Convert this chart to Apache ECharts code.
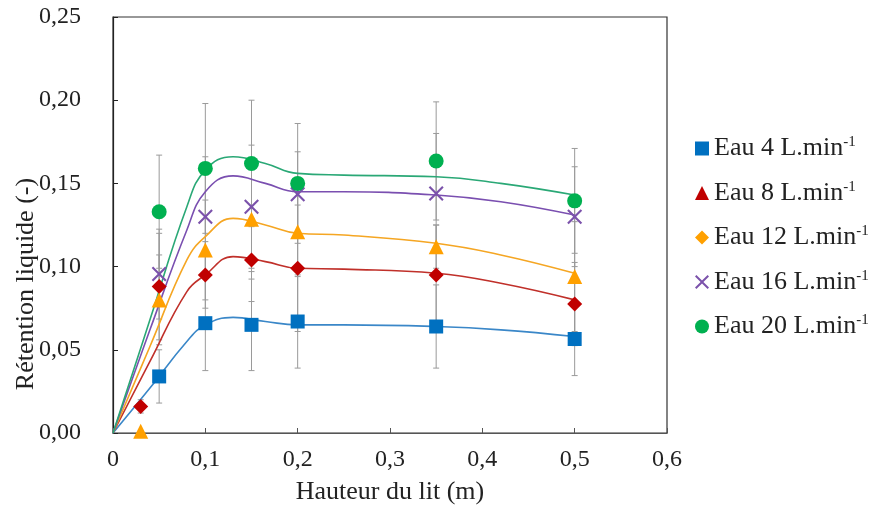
<!DOCTYPE html>
<html><head><meta charset="utf-8">
<script src="https://cdn.jsdelivr.net/npm/echarts@6/dist/echarts.min.js"></script>
<style>html,body{margin:0;padding:0;background:#fff}#c{width:879px;height:515px}</style>
</head><body><div id="c"></div>
<script>
// ---- data ----
const names = ['Eau 4 L.min-1','Eau 8 L.min-1','Eau 12 L.min-1','Eau 16 L.min-1','Eau 20 L.min-1'];
const x4  = [0.05, 0.10, 0.15, 0.20, 0.35, 0.50];
const y4  = [0.034, 0.066, 0.065, 0.067, 0.064, 0.0565];
const e4  = [0.016, 0.0285, 0.0275, 0.028, 0.025, 0.022];
const x8  = [0.03, 0.05, 0.10, 0.15, 0.20, 0.35, 0.50];
const y8  = [0.016, 0.088, 0.095, 0.104, 0.099, 0.095, 0.0775];
const e8  = [0.004, 0.032, 0.020, 0.025, 0.038, 0.030, 0.025];
const x12 = [0.03, 0.05, 0.10, 0.15, 0.20, 0.35, 0.50];
const y12 = [0.001, 0.080, 0.110, 0.1285, 0.121, 0.112, 0.094];
const e12 = [0, 0.027, 0.030, 0.0315, 0.027, 0.013, 0.033];
const x16 = [0.05, 0.10, 0.15, 0.20, 0.35, 0.50];
const y16 = [0.0955, 0.130, 0.136, 0.1435, 0.144, 0.130];
const e16 = [0.027, 0.036, 0.037, 0.0255, 0.036, 0.030];
const x20 = [0.05, 0.10, 0.15, 0.20, 0.35, 0.50];
const y20 = [0.133, 0.159, 0.162, 0.150, 0.1635, 0.1395];
const e20 = [0.034, 0.039, 0.038, 0.036, 0.0355, 0.0315];
// fitted curves
const curveX  = [0, 0.04, 0.08, 0.10, 0.13, 0.165, 0.20, 0.25, 0.35, 0.42, 0.50];
const curve4  = [0, 0.027, 0.055, 0.065, 0.0695, 0.067, 0.065, 0.065, 0.064, 0.062, 0.058];
const curve8  = [0, 0.043, 0.085, 0.095, 0.106, 0.103, 0.099, 0.0985, 0.096, 0.090, 0.080];
const curve12 = [0, 0.052, 0.104, 0.118, 0.129, 0.125, 0.120, 0.119, 0.114, 0.107, 0.096];
const curve16 = [0, 0.062, 0.122, 0.145, 0.1545, 0.150, 0.145, 0.145, 0.143, 0.139, 0.131];
const curve20 = [0, 0.068, 0.136, 0.158, 0.166, 0.162, 0.156, 0.155, 0.154, 0.150, 0.143];
const yTitle = 'Rétention liquide (-)';
const xTitle = 'Hauteur du lit (m)';

// ---- styles ----
const font = 'Liberation Serif';
const xIcon = 'path://M0,1 L1,0 L5,4 L9,0 L10,1 L6,5 L10,9 L9,10 L5,6 L1,10 L0,9 L4,5 Z';
const groups = [
  {x:x4,  y:y4,  e:e4,  c:curve4,  mc:'#0070C0', lc:'#3A87C8', sym:'rect',    size:14},
  {x:x8,  y:y8,  e:e8,  c:curve8,  mc:'#C00000', lc:'#C0302A', sym:'diamond', size:15},
  {x:x12, y:y12, e:e12, c:curve12, mc:'#FFA000', lc:'#F5A623', sym:'triangle',size:15},
  {x:x16, y:y16, e:e16, c:curve16, mc:'#7B52AB', lc:'#7A4FB0', sym:xIcon,     size:15},
  {x:x20, y:y20, e:e20, c:curve20, mc:'#00B050', lc:'#2AA876', sym:'circle',  size:15}
];
const legendIcons = ['rect','triangle','diamond',xIcon,'circle'];

const series = [];
groups.forEach((g, i) => {
  series.push({
    type:'custom', name:'err'+i, silent:true, z:1,
    data: g.x.map((x, k) => [x, g.y[k]-g.e[k], g.y[k]+g.e[k]]),
    encode:{x:0, y:[1,2]},
    renderItem:(params, api) => {
      if (api.value(2) - api.value(1) <= 0) return null;
      const lo = api.coord([api.value(0), api.value(1)]);
      const hi = api.coord([api.value(0), api.value(2)]);
      const w = 3;
      const st = {stroke:'#9a9a9a', lineWidth:1};
      return {type:'group', children:[
        {type:'line', shape:{x1:lo[0],y1:lo[1],x2:hi[0],y2:hi[1]}, style:st},
        {type:'line', shape:{x1:lo[0]-w,y1:lo[1],x2:lo[0]+w,y2:lo[1]}, style:st},
        {type:'line', shape:{x1:hi[0]-w,y1:hi[1],x2:hi[0]+w,y2:hi[1]}, style:st}
      ]};
    }
  });
});
groups.forEach((g, i) => {
  series.push({
    type:'line', name:'fit'+i, smooth:0.45, showSymbol:false, silent:true, z:2,
    data: curveX.map((x, k) => [x, g.c[k]]),
    lineStyle:{color:g.lc, width:1.6}, itemStyle:{color:g.lc}
  });
});
groups.forEach((g, i) => {
  series.push({
    type:'scatter', name:names[i], symbol:g.sym, symbolSize:g.size, z:3, clip:false,
    data: g.x.map((x, k) => [x, g.y[k]]),
    itemStyle:{color:g.mc, opacity:1}
  });
});

const chart = echarts.init(document.getElementById('c'));
chart.setOption({
  animation:false,
  backgroundColor:'#fff',
  grid:{left:113, top:17, right:212, bottom:82, show:true, borderColor:'#333', borderWidth:1.2,
        backgroundColor:'transparent', containLabel:false, outerBoundsMode:'none'},
  graphic:[{
    type:'text', x:26, y:284, rotation:Math.PI/2,
    style:{text:yTitle, fontFamily:font, fontSize:26, fill:'#222', align:'center', verticalAlign:'middle'}
  }],
  xAxis:{
    type:'value', min:0, max:0.6, interval:0.1,
    name:xTitle, nameLocation:'middle', nameGap:46,
    nameTextStyle:{fontFamily:font, fontSize:26, color:'#222'},
    axisLine:{show:true, lineStyle:{color:'#555', width:1.2}},
    axisTick:{show:true, inside:true, length:5, lineStyle:{color:'#555'}},
    splitLine:{show:false},
    axisLabel:{fontFamily:font, fontSize:24, color:'#222', margin:15,
      formatter:v => v === 0 ? '0' : v.toFixed(1).replace('.', ',')}
  },
  yAxis:{
    type:'value', min:0, max:0.25, interval:0.05,
    axisLine:{show:true, lineStyle:{color:'#222', width:1.2}},
    axisTick:{show:true, inside:true, length:5, lineStyle:{color:'#222'}},
    splitLine:{show:false},
    axisLabel:{fontFamily:font, fontSize:24, color:'#222', margin:32,
      formatter:v => v.toFixed(2).replace('.', ',')}
  },
  legend:{
    orient:'vertical', left:690, top:130, itemGap:18, itemWidth:14, itemHeight:14,
    data: names.map((n, i) => ({name:n, icon:legendIcons[i]})),
    formatter: n => '{a|' + n.replace('-1','') + '}{s|-1}',
    textStyle:{fontFamily:font, fontSize:26, color:'#222',
      rich:{a:{fontFamily:font, fontSize:26, color:'#222'},
            s:{fontFamily:font, fontSize:15, color:'#222', verticalAlign:'top', padding:[0,0,12,0]}}}
  },
  series: series
});
</script></body></html>
